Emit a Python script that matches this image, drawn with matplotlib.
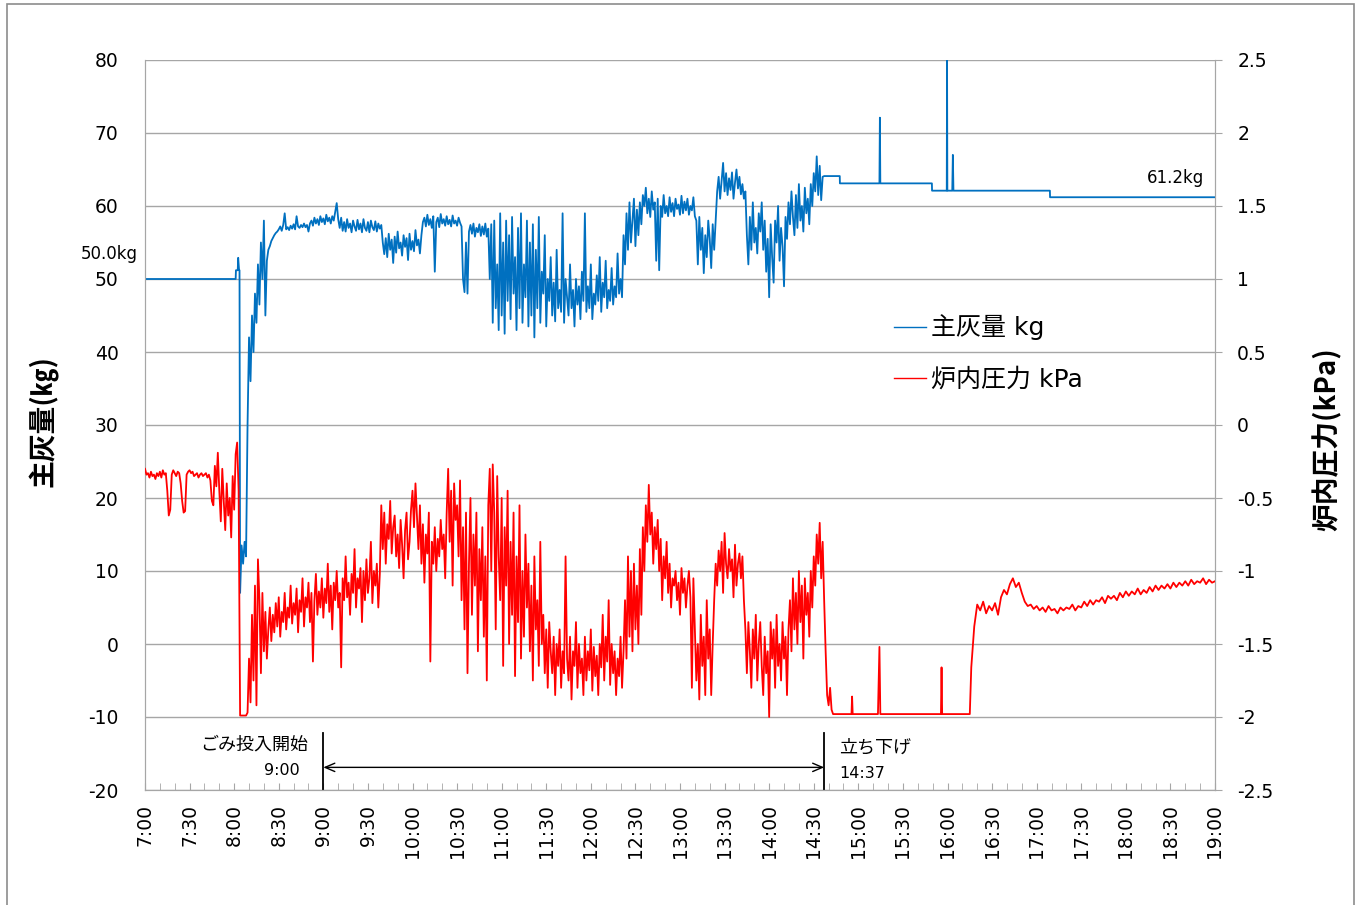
import numpy as np
import matplotlib
matplotlib.use("Agg")
import matplotlib.pyplot as plt
from matplotlib.patches import Rectangle

plt.rcParams['font.family'] = ['DejaVu Sans', 'Noto Sans CJK JP']
plt.rcParams['axes.unicode_minus'] = False

# time axis: minutes after 7:00

# 主灰量 kg
kg_head_t = [0, 61, 61.2, 62.4, 62.7, 63.3, 63.6]
kg_head_v = [50.0, 50.0, 51.2, 51.2, 52.9, 51.2, 51.2]
kg_1min_start = 64  # one sample per minute, 8:04 - 14:37
kg_1min = [
    7.0, 13.5, 11.0, 14.0, 12.0, 30.0, 42.0, 36.0, 45.0, 40.0,
    48.0, 44.0, 52.0, 46.5, 55.0, 50.0, 58.0, 45.0, 52.5, 54.0,
    54.5, 55.2, 55.6, 56.0, 56.3, 56.5, 56.8, 57.2, 56.6, 57.4,
    59.0, 56.8, 57.1, 56.7, 57.3, 56.9, 57.5, 56.8, 58.6, 57.2,
    57.0, 57.4, 57.1, 57.6, 57.1, 57.4, 56.5, 57.6, 58.0, 57.3,
    58.4, 57.6, 58.2, 57.4, 58.6, 57.8, 58.3, 57.5, 58.8, 57.9,
    58.4, 57.6, 58.6, 58.0, 59.2, 60.4, 58.2, 57.0, 58.4, 56.6,
    57.8, 56.5, 58.2, 57.0, 57.6, 56.4, 58.0, 57.2, 56.6, 58.1,
    56.8, 57.6, 56.4, 58.2, 57.0, 56.6, 57.8, 56.4, 58.0, 57.1,
    56.7, 57.9, 56.5, 57.6, 56.9, 57.4, 55.0, 53.4, 55.6, 53.0,
    56.2, 54.0, 55.4, 52.2, 55.8, 53.6, 56.5, 54.2, 55.0, 53.2,
    56.0, 54.4, 55.6, 52.6, 56.2, 54.0, 55.2, 53.8, 56.7, 54.6,
    55.4, 53.5, 56.0, 57.8, 58.4, 57.2, 58.8, 57.4, 58.2, 57.0,
    58.6, 51.0, 57.8, 58.4, 57.1, 58.9, 57.6, 58.2, 57.3, 58.6,
    57.5, 58.1, 57.2, 58.7, 57.6, 58.0, 57.3, 58.4, 57.7, 57.2,
    50.0, 48.2, 55.0, 48.0, 56.5, 57.4, 56.2, 57.6, 55.8, 57.0,
    56.4, 57.5, 55.9, 57.2, 56.1, 57.6, 55.8, 56.9, 50.0, 57.5,
    44.0, 58.0, 46.0, 52.0, 43.0, 59.0, 45.0, 55.0, 42.5, 58.0,
    47.0, 56.0, 44.5, 58.5, 48.0, 53.0, 43.0, 57.0, 46.0, 59.0,
    44.0, 52.0, 47.5, 58.0, 43.5, 55.0, 45.0, 57.5, 42.0, 54.0,
    46.0, 58.5, 44.0, 51.0, 48.0, 56.0, 43.5, 50.0, 47.0, 53.0,
    45.0, 49.5, 44.2, 54.0, 46.0, 48.5, 45.5, 59.0, 44.0, 50.0,
    47.5, 45.0, 52.0, 46.0, 48.5, 43.5, 50.0, 46.5, 49.0, 44.5,
    51.0, 47.0, 59.0, 45.5, 49.0, 46.0, 52.0, 44.5, 48.0, 46.5,
    50.5, 47.0, 53.0, 45.5, 49.5, 47.5, 52.5, 46.0, 48.5, 47.0,
    51.5, 46.5, 49.0, 47.5, 53.5, 48.0, 50.0, 47.5, 56.0, 52.0,
    59.0, 54.0, 60.5, 55.0, 58.0, 61.0, 54.5, 59.5, 56.0, 60.5,
    57.5, 61.5, 60.0, 62.5, 59.0, 61.0, 58.5, 62.0, 59.5, 60.5,
    52.5, 61.0, 51.2, 60.0, 58.5, 61.5, 59.0, 60.0, 58.6, 61.2,
    59.2, 60.4, 58.6, 61.0, 59.6, 60.2, 58.8, 61.4, 59.0, 60.6,
    59.4, 61.0, 58.8, 60.0, 59.4, 61.2, 58.6, 58.0, 52.0, 58.5,
    54.0, 57.0, 50.8, 56.0, 53.0, 58.0, 55.5, 51.5, 57.5, 54.0,
    58.0, 62.0, 64.0, 61.0, 63.5, 65.9, 62.0, 64.5, 61.5, 63.8,
    62.2, 64.6, 61.0, 63.2, 65.0, 62.4, 64.0, 61.6, 63.0, 61.0,
    62.0, 56.0, 52.0, 58.5, 54.0, 60.5, 55.0, 57.0, 53.5, 59.0,
    56.5, 60.5, 54.0, 58.0, 51.0, 55.5, 47.5, 57.5, 53.0, 49.5,
    58.0, 55.0, 60.0, 52.5, 57.0, 54.5, 49.0, 58.5, 55.5, 60.5,
    57.5, 62.0, 58.5, 56.0, 61.5, 57.0, 63.0, 58.0, 60.0, 56.5,
    62.5, 59.0, 61.0, 57.5, 63.0, 60.0, 64.5, 62.0, 66.8, 61.5,
    65.5, 60.8, 64.0, 64.1,
]
kg_tail_t = [457.5, 467.5, 467.6, 494.2, 494.5, 494.8, 529.5, 529.6,
             539.5, 539.7, 539.9, 543.2, 543.6, 544.0, 608.9, 609.0, 720]
kg_tail_v = [64.1, 64.1, 63.1, 63.1, 72.1, 63.1, 63.1, 62.1,
             62.1, 80.0, 62.1, 62.1, 67.0, 62.1, 62.1, 61.2, 61.2]

# 炉内圧力 kPa
kpa_1min = [  # one sample per minute, 7:00 - 14:43
    -0.30, -0.34, -0.33, -0.36, -0.32, -0.35, -0.34, -0.37, -0.33, -0.35,
    -0.32, -0.36, -0.31, -0.34, -0.33, -0.45, -0.62, -0.58, -0.34, -0.31,
    -0.33, -0.35, -0.32, -0.33, -0.40, -0.52, -0.60, -0.59, -0.34, -0.32,
    -0.31, -0.33, -0.32, -0.35, -0.34, -0.33, -0.36, -0.34, -0.33, -0.35,
    -0.34, -0.33, -0.36, -0.34, -0.38, -0.52, -0.55, -0.28, -0.42, -0.19,
    -0.45, -0.66, -0.30, -0.52, -0.72, -0.40, -0.62, -0.50, -0.77, -0.35,
    -0.58, -0.20, -0.12, -0.45,
    -1.99, -1.99, -1.99, -1.99, -1.99,
    -1.97, -1.60, -1.90, -1.30, -1.75, -1.10, -1.92, -0.92, -1.20, -1.70,
    -1.15, -1.55, -1.28, -1.60, -1.40, -1.25, -1.48, -1.30, -1.42, -1.22,
    -1.38, -1.18, -1.45, -1.28, -1.35, -1.15, -1.40, -1.25, -1.32, -1.10,
    -1.36, -1.22, -1.30, -1.12, -1.42, -1.20, -1.28, -1.05, -1.38, -1.18,
    -1.25, -1.08, -1.35, -1.15, -1.62, -1.20, -1.02, -1.30, -1.14, -1.25,
    -1.05, -1.32, -1.12, -1.22, -0.95, -1.28, -1.10, -1.40, -1.08, -1.20,
    -1.00, -1.25, -1.15, -1.66, -1.05, -1.20, -0.90, -1.18, -1.08, -1.30,
    -1.02, -1.15, -0.85, -1.25, -1.05, -1.12, -0.98, -1.35, -1.00, -1.20,
    -0.92, -1.15, -1.05, -0.80, -1.22, -1.00, -1.10, -0.95, -1.25, -1.02,
    -0.55, -0.85, -0.60, -0.95, -0.68, -0.78, -0.52, -0.88, -0.70, -0.62,
    -0.90, -0.75, -0.98, -0.65, -0.82, -1.05, -0.72, -0.60, -0.92, -0.80,
    -0.58, -0.45, -0.70, -0.40, -0.62, -0.85, -0.55, -0.95, -0.68, -1.08,
    -0.75, -0.88, -0.60, -1.62, -0.80, -0.95, -0.70, -1.00, -0.78, -0.90,
    -0.65, -0.85, -0.75, -1.05, -0.60, -0.30, -0.80, -0.45, -1.10, -0.40,
    -0.65, -0.55, -0.90, -0.38, -1.20, -0.70, -1.40, -0.60, -1.70, -0.95,
    -0.50, -1.30, -0.75, -1.10, -0.60, -1.55, -0.85, -1.20, -0.70, -1.45,
    -0.90, -1.75, -0.55, -0.30, -1.00, -0.27, -0.60, -1.40, -0.35, -0.90,
    -1.20, -0.50, -1.65, -0.70, -1.10, -0.45, -1.50, -0.80, -1.30, -0.60,
    -1.72, -0.90, -1.35, -0.55, -1.60, -1.00, -1.45, -0.75, -1.25, -0.95,
    -1.55, -1.10, -1.75, -0.90, -1.40, -1.20, -1.65, -0.80, -1.50, -1.30,
    -1.70, -1.40, -1.80, -1.35, -1.55, -1.70, -1.45, -1.85, -1.50, -1.65,
    -1.40, -1.80, -1.55, -1.70, -0.90, -1.60, -1.75, -1.45, -1.88, -1.55,
    -1.65, -1.35, -1.80, -1.50, -1.70, -1.60, -1.85, -1.45, -1.75, -1.55,
    -1.68, -1.40, -1.82, -1.52, -1.72, -1.58, -1.85, -1.50, -1.66, -1.30,
    -1.75, -1.45, -1.62, -1.20, -1.78, -1.50, -1.70, -1.55, -1.85, -1.60,
    -1.72, -1.45, -1.80, -1.55, -1.20, -1.60, -0.90, -1.45, -1.00, -1.55,
    -0.95, -1.40, -1.10, -1.50, -0.85, -1.30, -0.70, -1.00, -0.55, -0.80,
    -0.41, -0.75, -0.60, -0.95, -0.70, -0.85, -0.65, -1.00, -0.78, -1.20,
    -0.90, -1.05, -0.80, -1.15, -0.95, -1.25, -1.05, -1.10, -1.00, -1.20,
    -1.08, -1.30, -0.98, -1.15, -1.05, -1.25, -1.10, -1.00, -1.18, -1.80,
    -1.05, -1.40, -1.75, -1.50, -1.88, -1.30, -1.65, -1.45, -1.85, -1.20,
    -1.60, -1.40, -1.85, -1.50, -1.20, -0.95, -1.10, -0.86, -1.00, -0.80,
    -1.15, -0.74, -0.95, -1.05, -0.85, -1.00, -0.92, -1.18, -0.82, -1.10,
    -0.95, -0.88, -1.05, -0.90, -1.20, -1.40, -1.70, -1.35, -1.55, -1.80,
    -1.40, -1.60, -1.30, -1.75, -1.50, -1.35, -1.65, -1.85, -1.45, -1.70,
    -1.55, -2.00, -1.35, -1.60, -1.40, -1.80, -1.30, -1.65, -1.50, -1.75,
    -1.35, -1.60, -1.45, -1.85, -1.40, -1.20, -1.55, -1.05, -1.40, -1.15,
    -1.50, -1.00, -1.35, -1.10, -1.60, -1.05, -1.30, -1.15, -1.45, -1.00,
    -1.25, -0.90, -1.10, -0.75, -0.95, -0.67, -1.05, -0.80, -1.20, -1.55,
    -1.85, -1.92, -1.80, -1.95, -1.98,
]
kpa_tail_t = [464, 475.4, 475.8, 476.2, 493.2, 493.8, 494.2, 494.8,
              535.6, 536.0, 536.4, 555]
kpa_tail_v = [-1.98, -1.98, -1.86, -1.98, -1.98, -1.70, -1.52, -1.98,
              -1.98, -1.66, -1.98, -1.98]
kpa_2min_start = 556  # one sample every 2 minutes, 16:16 - 19:00
kpa_2min = [
    -1.66, -1.38, -1.23, -1.27, -1.21, -1.29, -1.24, -1.27, -1.22, -1.30,
    -1.18, -1.13, -1.16, -1.09, -1.05, -1.11, -1.08, -1.15, -1.21, -1.24,
    -1.23, -1.26, -1.24, -1.27, -1.25, -1.28, -1.24, -1.27, -1.26, -1.29,
    -1.25, -1.27, -1.25, -1.26, -1.23, -1.27, -1.24, -1.25, -1.21, -1.24,
    -1.20, -1.23, -1.20, -1.21, -1.18, -1.22, -1.17, -1.19, -1.17, -1.20,
    -1.15, -1.18, -1.14, -1.17, -1.14, -1.16, -1.12, -1.16, -1.13, -1.15,
    -1.11, -1.14, -1.10, -1.13, -1.10, -1.12, -1.09, -1.12, -1.08, -1.11,
    -1.08, -1.10, -1.07, -1.10, -1.06, -1.09, -1.07, -1.08, -1.05, -1.09,
    -1.06, -1.08, -1.07,
]

x_ticks = list(range(0, 721, 30))
x_labels = [f"{7 + m // 60}:{m % 60:02d}" for m in x_ticks]
kg_ticks = list(range(-20, 81, 10))
kpa_ticks = [-2.5, -2, -1.5, -1, -0.5, 0, 0.5, 1, 1.5, 2, 2.5]

blue = "#0070C0"
red = "#FF0000"
grey = "#A6A6A6"

kg_t = np.concatenate([kg_head_t, kg_1min_start + np.arange(len(kg_1min)), kg_tail_t])
kg_v = np.concatenate([kg_head_v, kg_1min, kg_tail_v])
kpa_t = np.concatenate([np.arange(len(kpa_1min)), kpa_tail_t,
                        kpa_2min_start + 2 * np.arange(len(kpa_2min))])
kpa_v = np.concatenate([kpa_1min, kpa_tail_v, kpa_2min])

fig = plt.figure(figsize=(13.59, 9.05), dpi=100)
ax = fig.add_axes([145 / 1359, 1 - 790 / 905, 1070 / 1359, 730 / 905])
ax2 = ax.twinx()

l1, = ax.plot(kg_t, kg_v, color=blue, lw=1.3, label="主灰量 kg", zorder=3)
l2, = ax2.plot(kpa_t, kpa_v, color=red, lw=1.3, label="炉内圧力 kPa", zorder=3)

ax.set_xlim(0, 720)
ax.set_ylim(-20, 80)
ax2.set_ylim(-2.5, 2.5)

ax.set_yticks(kg_ticks)
ax.set_yticklabels([str(v) for v in kg_ticks])
ax2.set_yticks(kpa_ticks)
ax2.set_yticklabels([f"{v:g}" for v in kpa_ticks])
ax.set_xticks(x_ticks)
ax.set_xticklabels(x_labels, rotation=90)
ax.set_xticks(range(0, 721, 10), minor=True)

ax.grid(axis="y", color=grey, lw=1.0)
ax.set_axisbelow(True)
for a in (ax, ax2):
    a.spines["top"].set_visible(False)
    for s in ("left", "right", "bottom"):
        a.spines[s].set_color(grey)

ax.tick_params(axis="y", length=0, pad=19, labelsize=13.5)
ax2.tick_params(axis="y", length=5, color=grey, pad=11, labelsize=13.5)
ax.tick_params(axis="x", which="both", direction="in", length=5, color=grey,
               pad=10, labelsize=13.5)

ax.set_ylabel("主灰量(㎏)", fontsize=20, fontweight="bold",
              family=["Noto Sans CJK JP"])
ax.yaxis.set_label_coords(-0.081, 0.505)
ax2.set_ylabel("炉内圧力(kPa)", fontsize=20, fontweight="bold", rotation=90,
               family=["Noto Sans CJK JP"])
ax2.yaxis.set_label_coords(1.091, 0.48)

leg = ax.legend(handles=[l1, l2], loc="upper left", frameon=False,
                bbox_to_anchor=(871 / 1359, 1 - 292 / 905), bbox_transform=fig.transFigure,
                handlelength=1.3, handletextpad=0.2, labelspacing=1.1,
                prop={"family": ["DejaVu Sans", "Noto Sans CJK JP"], "size": 18})
for h in leg.get_lines():
    h.set_linewidth(1.0)

# annotations
ax.text(-5, 53.4, "50.0kg", ha="right", va="center", fontsize=12)
ax.text(713, 63.8, "61.2kg", ha="right", va="center", fontsize=12)
ax.text(110, -13.8, "ごみ投入開始", ha="right", va="center", fontsize=13,
        family=["Noto Sans CJK JP"])
ax.text(104, -17.3, "9:00", ha="right", va="center", fontsize=11.5)
ax.text(467, -14.2, "立ち下げ", ha="left", va="center", fontsize=13,
        family=["Noto Sans CJK JP"])
ax.text(467, -17.7, "14:37", ha="left", va="center", fontsize=11.5)

start_m, stop_m = 120, 457
for m in (start_m, stop_m):
    ax.plot([m, m], [-12.2, -20], color="black", lw=1.3, clip_on=False)
ax.annotate("", xy=(start_m, -16.9), xytext=(stop_m, -16.9),
            arrowprops=dict(arrowstyle="<->,head_length=0.7,head_width=0.3",
                            color="black", lw=1.0, shrinkA=0, shrinkB=0))

fig.patches.append(Rectangle((7 / 1359, -0.02), 1347 / 1359, 1.02 - 4 / 905,
                             transform=fig.transFigure, fill=False,
                             edgecolor="#8C8C8C", lw=1.2))

fig.savefig("out.png", dpi=100)
